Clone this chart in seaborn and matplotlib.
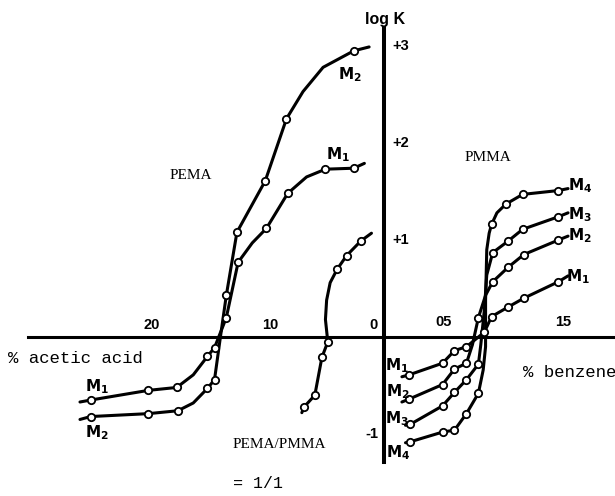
import numpy as np
import pandas as pd
import seaborn as sns
import matplotlib.pyplot as plt

# ---- left half: PEMA in acetic acid (% acetic acid vs log K) ----
acid_m1_pct = [25.2, 20.3, 17.9, 15.3, 14.7, 13.7, 12.7, 10.3, 8.5, 5.3, 2.9]
acid_m1_logk = [-0.65, -0.55, -0.52, -0.20, -0.11, 0.20, 0.77, 1.12, 1.48, 1.73, 1.74]
acid_m2_pct = [25.2, 20.3, 17.8, 15.3, 14.7, 13.7, 12.8, 10.4, 8.6, 2.9]
acid_m2_logk = [-0.82, -0.79, -0.76, -0.53, -0.44, 0.43, 1.08, 1.61, 2.25, 2.95]
blend_pct = [7.1, 6.2, 5.6, 5.1, 4.3, 3.5, 2.3]
blend_logk = [-0.72, -0.60, -0.21, -0.05, 0.70, 0.84, 0.99]

# ---- right half: PMMA in benzene (% benzene vs log K) ----
benz_m1_pct = [0.21, 0.49, 0.59, 0.69, 0.84, 0.90, 1.04, 1.17, 1.46]
benz_m1_logk = [-0.39, -0.27, -0.14, -0.10, 0.05, 0.21, 0.31, 0.40, 0.57]
benz_m2_pct = [0.21, 0.49, 0.59, 0.69, 0.79, 0.91, 1.04, 1.17, 1.46]
benz_m2_logk = [-0.64, -0.49, -0.33, -0.27, 0.20, 0.57, 0.72, 0.85, 1.00]
benz_m3_pct = [0.22, 0.49, 0.59, 0.69, 0.79, 0.91, 1.04, 1.16, 1.46]
benz_m3_logk = [-0.90, -0.71, -0.57, -0.44, -0.28, 0.87, 0.99, 1.11, 1.24]
benz_m4_pct = [0.22, 0.49, 0.59, 0.69, 0.79, 0.90, 1.02, 1.16, 1.46]
benz_m4_logk = [-1.08, -0.98, -0.96, -0.79, -0.58, 1.16, 1.37, 1.47, 1.51]

# hand drawn curves run a bit past the points and bend between them
acid_m1_trace = ([26.1, 16.5, 11.5, 6.9, 2.0], [-0.67, -0.39, 0.97, 1.65, 1.79])
acid_m2_trace = ([26.1, 16.5, 14.2, 7.2, 5.5, 1.6], [-0.85, -0.68, 0.0, 2.53, 2.78, 2.99])
blend_trace = ([7.3, 5.3, 5.2, 4.9, 1.4], [-0.78, 0.18, 0.38, 0.56, 1.07])
benz_m1_trace = ([0.15, 1.54], [-0.41, 0.63])
benz_m2_trace = ([0.15, 0.74, 0.85, 1.54], [-0.67, -0.08, 0.43, 1.04])
benz_m3_trace = ([0.18, 0.81, 0.84, 0.86, 1.54], [-0.91, -0.08, 0.28, 0.64, 1.28])
benz_m4_trace = ([0.18, 0.83, 0.85, 0.85, 0.86, 0.88, 0.945, 1.54],
                 [-1.09, -0.34, -0.10, 0.38, 0.90, 1.07, 1.28, 1.53])

acid_ticks = [25, 20, 15, 10]
benz_ticks = [0.5, 1.0, 1.5]


def acid_x(pct):
    # acetic acid scale runs leftwards from the log K axis
    return (4 - 11.8 * np.asarray(pct, dtype=float)) / 119.5


pts, lines = [], []
series = [
    ("acid_m1", acid_x(acid_m1_pct), acid_m1_logk, acid_x(acid_m1_trace[0]), acid_m1_trace[1]),
    ("acid_m2", acid_x(acid_m2_pct), acid_m2_logk, acid_x(acid_m2_trace[0]), acid_m2_trace[1]),
    ("blend", acid_x(blend_pct), blend_logk, acid_x(blend_trace[0]), blend_trace[1]),
    ("benz_m1", benz_m1_pct, benz_m1_logk, *benz_m1_trace),
    ("benz_m2", benz_m2_pct, benz_m2_logk, *benz_m2_trace),
    ("benz_m3", benz_m3_pct, benz_m3_logk, *benz_m3_trace),
    ("benz_m4", benz_m4_pct, benz_m4_logk, *benz_m4_trace),
]
for name, x, y, tx, ty in series:
    p = pd.DataFrame({"x": x, "logk": y, "curve": name})
    t = pd.DataFrame({"x": tx, "logk": ty, "curve": name})
    pts.append(p)
    lines.append(pd.concat([p, t]).sort_values("logk"))
pts = pd.concat(pts, ignore_index=True)
lines = pd.concat(lines, ignore_index=True)

sns.set_style("white")
plt.rcParams["font.family"] = ["Liberation Sans", "DejaVu Sans"]
plt.rcParams["text.color"] = "black"

fig = plt.figure(figsize=(6.15, 4.96), dpi=100)
ax = fig.add_axes([0, 0, 1, 1])

sns.lineplot(data=lines, x="x", y="logk", units="curve", estimator=None, sort=False,
             color="black", lw=2.2, ax=ax, legend=False)
sns.scatterplot(data=pts, x="x", y="logk", marker="o", s=28, facecolor="white",
                edgecolor="black", linewidth=1.3, ax=ax, zorder=3, legend=False)

ax.set_xlim(-3.213, 1.933)
ax.set_ylim(-1.639, 3.474)

# axes drawn as crossing lines at the origin
for s in ["top", "right"]:
    ax.spines[s].set_visible(False)
ax.spines["left"].set_position(("data", 0))
ax.spines["bottom"].set_position(("data", 0))
ax.spines["left"].set_bounds(-1.29, 3.19)
ax.spines["bottom"].set_bounds(-2.98, 1.933)
ax.spines["left"].set_linewidth(2.9)
ax.spines["bottom"].set_linewidth(2.2)
ax.spines["left"].set_color("black")
ax.spines["bottom"].set_color("black")

ax.set_xticks(list(acid_x(acid_ticks)) + benz_ticks)
ax.set_yticks([-1, 1, 2, 3])
ax.set_xticklabels([])
ax.set_yticklabels([])
ax.tick_params(direction="in", length=4, width=1.3, color="black")
ax.set_xlabel("")
ax.set_ylabel("")

bold = dict(fontweight="bold", fontsize=10.5, color="black")
ax.text(0.01, 3.27, "log K", ha="center", va="center", fontweight="bold", fontsize=11.5,
        color="black")
for v in [3, 2, 1]:
    ax.text(0.067, v, f"+{v}", ha="left", va="center", **bold)
ax.text(-0.05, -1.0, "-1", ha="right", va="center", **bold)
ax.text(-0.05, 0.05, "0", ha="right", va="bottom", **bold)
for v in [20, 10]:
    ax.text(acid_x(v), 0.05, f"{v}", ha="center", va="bottom", **bold)
for v, lab in [(0.5, "05"), (1.5, "15")]:
    ax.text(v, 0.08, lab, ha="center", va="bottom", **bold)

mono = dict(family=["Liberation Mono", "DejaVu Sans Mono"], color="black")
serif = dict(family=["Liberation Serif", "DejaVu Serif"], color="black")
ax.text(-3.15, -0.22, "% acetic acid", ha="left", va="center", fontsize=12.5, **mono)
ax.text(1.163, -0.37, "% benzene", ha="left", va="center", fontsize=12.5, **mono)
ax.text(-1.62, 1.67, "PEMA", ha="center", va="center", fontsize=11, **serif)
ax.text(0.87, 1.85, "PMMA", ha="center", va="center", fontsize=11, **serif)
ax.text(-1.264, -1.11, "PEMA/PMMA", ha="left", va="center", fontsize=11, **serif)
ax.text(-1.264, -1.505, "= 1/1", ha="left", va="center", fontsize=12, **mono)

labels = [
    (-0.285, 2.70, 2), (-0.385, 1.88, 1), (-2.40, -0.51, 1), (-2.40, -0.99, 2),
    (1.64, 1.56, 4), (1.64, 1.26, 3), (1.64, 1.04, 2), (1.62, 0.62, 1),
    (0.11, -0.30, 1), (0.12, -0.56, 2), (0.11, -0.84, 3), (0.12, -1.19, 4),
]
for x, y, n in labels:
    ax.text(x, y, r"$\mathbf{M_%d}$" % n, ha="center", va="center", fontsize=11,
            color="black")

fig.savefig("out.png", dpi=100)
